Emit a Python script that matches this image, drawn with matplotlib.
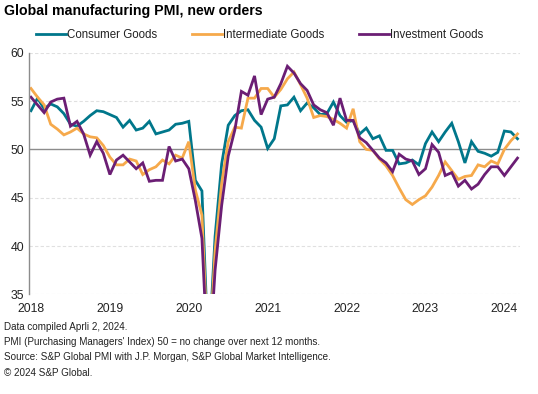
import numpy as np
import matplotlib
matplotlib.use("Agg")
import matplotlib.pyplot as plt

plt.rcParams['font.family'] = ['Liberation Sans', 'DejaVu Sans']

# monthly values, Jan 2018 - Mar 2024
consumer = [54.0, 55.3, 54.2, 54.7, 54.4, 53.7, 52.6, 52.4, 52.9, 53.5, 54.0, 53.9,
            53.6, 53.3, 52.3, 53.0, 52.0, 52.2, 52.9, 51.6, 51.8, 52.0, 52.6, 52.7,
            52.9, 46.8, 45.7, 28.5, 41.0, 48.5, 52.5, 53.5, 54.0, 54.1, 53.0, 52.3,
            50.1, 51.1, 54.5, 54.6, 55.4, 54.0, 54.8, 54.3, 53.6, 53.7, 54.9, 53.5,
            52.8, 53.0, 51.6, 52.2, 51.1, 51.4, 49.9, 49.9, 48.5, 48.6, 48.9, 48.4,
            50.6, 51.8, 50.8, 51.8, 52.7, 50.8, 48.6, 50.8, 49.8, 49.6, 49.3, 49.7,
            51.9, 51.8, 51.1]
intermediate = [56.3, 55.4, 54.6, 52.6, 52.1, 51.5, 51.8, 52.2, 51.6, 51.3, 51.2, 50.4,
                49.2, 48.4, 48.4, 49.0, 48.8, 47.4, 47.9, 48.2, 48.9, 48.5, 49.4, 49.1,
                50.8, 45.8, 43.2, 27.5, 39.5, 46.5, 50.8, 52.3, 52.2, 55.3, 55.3, 56.3,
                56.3, 55.4, 56.2, 57.3, 58.0, 56.7, 55.3, 53.3, 53.5, 53.4, 53.1, 52.7,
                52.2, 54.2, 50.8, 50.0, 49.9, 49.0, 48.3, 47.3, 46.0, 44.8, 44.3, 44.8,
                45.2, 46.1, 47.3, 48.7, 47.8, 46.9, 47.2, 47.3, 48.4, 48.2, 48.8, 48.5,
                50.0, 50.9, 51.6]
investment = [55.4, 54.6, 53.8, 54.9, 55.2, 55.3, 52.4, 52.9, 51.6, 49.4, 50.8, 49.6,
              47.4, 48.9, 49.4, 48.7, 48.0, 48.6, 46.7, 46.8, 46.8, 50.3, 48.8, 49.0,
              48.0, 44.7, 40.8, 26.5, 37.5, 44.2, 49.3, 52.0, 56.0, 55.6, 57.6, 53.6,
              55.2, 55.4, 56.8, 58.6, 57.9, 56.8, 56.1, 54.6, 54.1, 53.8, 52.5, 55.3,
              53.0, 53.0, 51.2, 50.7, 49.9, 49.1, 48.6, 47.7, 49.5, 49.0, 48.8, 47.4,
              48.0, 50.5, 49.7, 47.3, 47.6, 46.2, 46.8, 45.9, 46.4, 47.4, 48.2, 48.2,
              47.3, 48.2, 49.1]
series_names = ['Consumer Goods', 'Intermediate Goods', 'Investment Goods']
colors = ['#00778B', '#F6A94B', '#6B1E74']
years = ['2018', '2019', '2020', '2021', '2022', '2023', '2024']

months = np.arange(len(consumer))

fig = plt.figure(figsize=(5.38, 3.94), dpi=100)
ax = fig.add_axes([0.0548, 0.2528, 0.912, 0.6134])

for vals, name, c in zip([consumer, intermediate, investment], series_names, colors):
    ax.plot(months, vals, color=c, lw=2.0, label=name, solid_joinstyle='miter')

ax.set_xlim(-0.23, 74.4)
ax.set_ylim(35, 60)
ax.set_yticks([35, 40, 45, 50, 55, 60])
ax.set_xticks(np.arange(0, 73, 12))
ax.set_xticklabels(years)

for y in [35, 40, 45, 55, 60]:
    ax.axhline(y, color='#e0e0e0', lw=0.8, ls=(0, (3, 2)), zorder=0)
ax.axhline(50, color='#8c8c8c', lw=1.0, zorder=1)

for s in ['top', 'right', 'bottom']:
    ax.spines[s].set_visible(False)
ax.spines['left'].set_color('#8c8c8c')
ax.spines['left'].set_linewidth(1.0)
ax.tick_params(length=0, labelsize=8.8, colors='#222222', pad=4)
ax.tick_params(axis='x', pad=6)

fig.text(0.008, 0.99, 'Global manufacturing PMI, new orders', fontsize=10.2,
         fontweight='bold', va='top', ha='left')

leg = ax.legend(ncol=3, loc='center', bbox_to_anchor=(0.483, 0.911),
                bbox_transform=fig.transFigure, frameon=False, fontsize=8.3,
                handlelength=2.6, handletextpad=0.1, columnspacing=3.0)
for t in leg.get_texts():
    t.set_color('#222222')

notes = ['Data compiled Aprli 2, 2024.',
         "PMI (Purchasing Managers' Index) 50 = no change over next 12 months.",
         'Source: S&P Global PMI with J.P. Morgan, S&P Global Market Intelligence.',
         '\u00a9 2024 S&P Global.']
for i, n in enumerate(notes):
    fig.text(0.008, 1 - (327 + i * 15.2) / 394, n, fontsize=7.1, va='center',
             ha='left', color='#222222')

fig.savefig('out.png', dpi=100)
